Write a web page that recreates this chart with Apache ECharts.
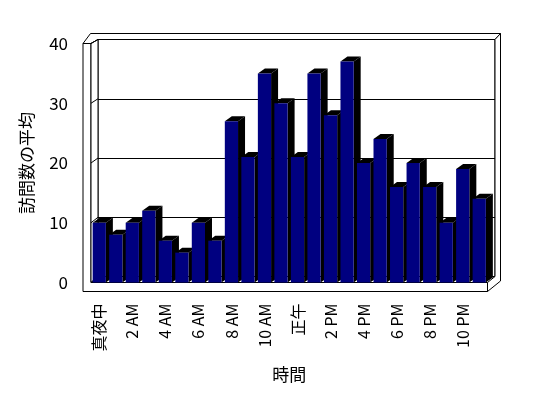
<!DOCTYPE html>
<html>
<head>
<meta charset="utf-8">
<script src="https://cdn.jsdelivr.net/npm/echarts@6/dist/echarts.min.js"></script>
<style>
  html, body { margin: 0; padding: 0; background: #fff; }
  #chart { width: 548px; height: 398px; }
</style>
</head>
<body>
<div id="chart"></div>
<script>
// 時間帯ごとの訪問数の平均
var hours = ['真夜中', '1 AM', '2 AM', '3 AM', '4 AM', '5 AM', '6 AM', '7 AM', '8 AM', '9 AM', '10 AM', '11 AM',
             '正午', '1 PM', '2 PM', '3 PM', '4 PM', '5 PM', '6 PM', '7 PM', '8 PM', '9 PM', '10 PM', '11 PM'];
var visits = [10, 8, 10, 12, 7, 5, 10, 7, 27, 21, 35, 30, 21, 35, 28, 37, 20, 24, 16, 20, 16, 10, 19, 14];
var yTicks = [0, 10, 20, 30, 40];

var font = 'Noto Sans CJK JP';
var DX = 7, DY = -5;   // 奥行き

var chart = echarts.init(document.getElementById('chart'));

function renderBar(params, api) {
    var top = api.coord([api.value(0), api.value(1)]);
    var base = api.coord([api.value(0), 0]);
    var band = api.size([1, 0])[0];
    var x0 = top[0] - band / 2 + band * 0.1;
    var x1 = x0 + band * 0.8;
    return {
        type: 'group',
        children: [
            { type: 'polygon', shape: { points: [[x1, top[1]], [x1 + DX, top[1] + DY], [x1 + DX, base[1] + DY], [x1, base[1]]] },
              style: { fill: '#000' } },
            { type: 'polygon', shape: { points: [[x0, top[1]], [x0 + DX, top[1] + DY], [x1 + DX, top[1] + DY], [x1, top[1]]] },
              style: { fill: '#000' } },
            { type: 'rect', shape: { x: x0, y: top[1], width: x1 - x0, height: base[1] - top[1] },
              style: { fill: '#000080' } }
        ]
    };
}

var option = {
    backgroundColor: '#fff',
    animation: false,
    grid: [
        { left: 98, top: 39.5, width: 397, height: 237, show: true, backgroundColor: '#fff', borderColor: '#000', borderWidth: 1 },
        { left: 91, top: 43.5, width: 396.5, height: 239 }
    ],
    xAxis: [
        { gridIndex: 0, type: 'category', data: hours, show: false },
        {
            gridIndex: 1, type: 'category', data: hours, offset: 9,
            axisLine: { lineStyle: { color: '#000', width: 1 } },
            axisTick: { inside: true, length: 9, interval: 0, lineStyle: { color: '#000' } },
            axisLabel: { interval: 1, rotate: 90, margin: 12, color: '#000', fontSize: 16, fontFamily: font },
            name: '時間', nameLocation: 'middle', nameGap: 75,
            nameTextStyle: { color: '#000', fontSize: 17, fontFamily: font }
        }
    ],
    yAxis: [
        {
            gridIndex: 0, type: 'value', min: 0, max: 40, interval: 10,
            axisLine: { show: false }, axisTick: { show: false }, axisLabel: { show: false },
            splitLine: { lineStyle: { color: '#000', width: 1 } }
        },
        {
            gridIndex: 1, type: 'value', min: 0, max: 40, interval: 10, offset: 8,
            axisLine: { show: true, lineStyle: { color: '#000', width: 1 } },
            axisTick: { show: true, inside: true, length: 8, lineStyle: { color: '#000' } },
            axisLabel: { margin: 15, color: '#000', fontSize: 17, fontFamily: font },
            splitLine: { show: false },
            name: '訪問数の平均', nameLocation: 'middle', nameRotate: 90, nameGap: 48,
            nameTextStyle: { color: '#000', fontSize: 17, fontFamily: font }
        }
    ],
    series: [
        {
            name: '訪問数の平均',
            type: 'custom',
            xAxisIndex: 1,
            yAxisIndex: 1,
            clip: false,
            z: 5,
            renderItem: renderBar,
            data: visits.map(function (v, i) { return [i, v]; })
        }
    ]
};
chart.setOption(option);

// 壁と床の枠
var fl = 83, fi = 91, fr = 487.5, ft = 43.5, fb = 282.5, fbot = 291.5;
var bl = 98, br = 495, bt = 39.5, bb = 276.5, ol = 90.5, or_ = 500.5, ot = 33.5;
var stroke = { fill: '#fff', stroke: '#000', lineWidth: 1 };
var frame = [
    { type: 'polygon', z: 1, shape: { points: [[fl, ft], [fi, ft], [fi, fb], [fr, fb], [fr, fbot], [fl, fbot]] }, style: stroke },
    { type: 'polygon', z: 1, shape: { points: [[fl, ft], [ol, ot], [or_, ot], [br, bt], [bl, bt], [fi, ft]] }, style: stroke },
    { type: 'polygon', z: 1, shape: { points: [[br, bt], [or_, ot], [or_, 281], [fr, fbot], [fr, fb], [br, bb]] }, style: stroke },
    { type: 'polygon', z: 1, shape: { points: [[fi, ft], [bl, bt], [bl, bb], [fi, fb]] }, style: stroke }
];
yTicks.forEach(function (v) {
    var yf = chart.convertToPixel({ yAxisIndex: 1 }, v);
    var yb = chart.convertToPixel({ yAxisIndex: 0 }, v);
    frame.push({ type: 'line', z: 1, shape: { x1: fi, y1: yf, x2: bl, y2: yb }, style: { stroke: '#000', lineWidth: 1 } });
});
chart.setOption({ graphic: frame });
</script>
</body>
</html>
